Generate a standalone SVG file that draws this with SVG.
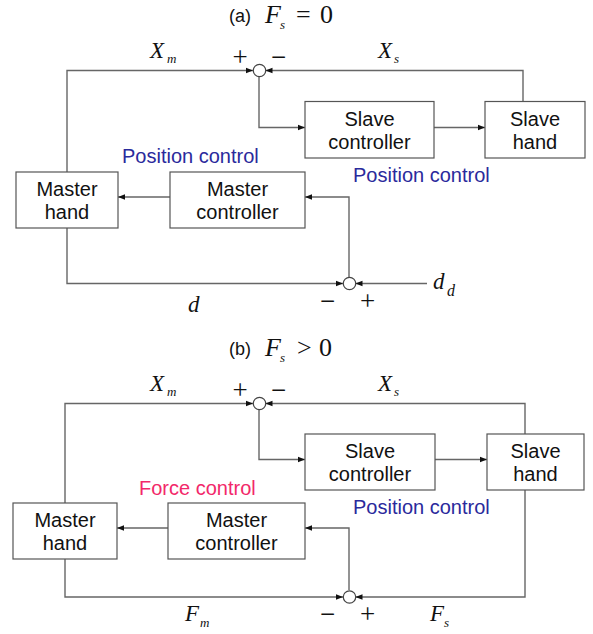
<svg xmlns="http://www.w3.org/2000/svg" width="593" height="634" viewBox="0 0 593 634">
<defs>
<marker id="ah" viewBox="0 0 8 8" refX="8" refY="4" markerWidth="7" markerHeight="7" markerUnits="userSpaceOnUse" orient="auto"><path d="M0,0.8 L8,4 L0,7.2 z" fill="#111"/></marker>
<style>
.box{fill:#fff;stroke:#555;stroke-width:1.2}
.ar{fill:none;stroke:#666;stroke-width:1.4;marker-end:url(#ah)}
.sum{fill:#fff;stroke:#444;stroke-width:1.2}
.t{font-family:"Liberation Sans",Arial,sans-serif;font-size:20px;fill:#111;text-anchor:middle}
.ti{font-family:"Liberation Sans",Arial,sans-serif;font-size:18px;fill:#111}
.m{font-family:"Liberation Serif","Times New Roman",serif;font-style:italic;font-size:23px;fill:#111}
.big{font-size:26px}
.sub{font-family:"Liberation Serif","Times New Roman",serif;font-style:italic;font-size:13px;fill:#111}
.subd{font-size:16px}
.op{font-family:"Liberation Serif","Times New Roman",serif;font-size:27px;fill:#111;text-anchor:middle}
.opb{font-family:"Liberation Serif","Times New Roman",serif;font-size:26px;fill:#111}
.blue{font-family:"Liberation Sans",Arial,sans-serif;font-size:20px;fill:#2a2a9c}
.pink{font-family:"Liberation Sans",Arial,sans-serif;font-size:20px;fill:#f2286a}
</style>
</defs>

<!-- (a) -->
<g id="title-a">
<text class="ti" x="229" y="22">(a)</text>
<text class="m big" x="265" y="23">F</text><text class="sub" x="280" y="29">s</text>
<text class="opb" x="296" y="23">=</text><text class="opb" x="320" y="23">0</text>
</g>

<g id="connectors-a">
<path class="ar" d="M67,172 L67,70.5 L253,70.5"/>
<path class="ar" d="M523,101 L523,70.5 L265.5,70.5"/>
<path class="ar" d="M259,77 L259,127.5 L305,127.5"/>
<path class="ar" d="M434,127.5 L485,127.5"/>
<path class="ar" d="M170,197 L118,197"/>
<path class="ar" d="M349,277 L349,197 L305,197"/>
<path class="ar" d="M67,228 L67,283.5 L343,283.5"/>
<path class="ar" d="M427,283.5 L355.5,283.5"/>
</g>
<g id="sum-a1"><circle class="sum" cx="259.5" cy="70.5" r="6.2"/></g>
<g id="sum-a2"><circle class="sum" cx="349.5" cy="283.5" r="6.2"/></g>

<g id="slave-controller-a"><rect class="box" x="305" y="101.5" width="129" height="56.5"/><text class="t" x="369.5" y="126">Slave</text><text class="t" x="369.5" y="149">controller</text></g>
<g id="slave-hand-a"><rect class="box" x="485" y="101.5" width="100" height="56.5"/><text class="t" x="535" y="126">Slave</text><text class="t" x="535" y="149">hand</text></g>
<g id="master-hand-a"><rect class="box" x="16" y="172" width="102" height="56"/><text class="t" x="67" y="196">Master</text><text class="t" x="67" y="219">hand</text></g>
<g id="master-controller-a"><rect class="box" x="170" y="172" width="135" height="56"/><text class="t" x="237.5" y="196">Master</text><text class="t" x="237.5" y="219">controller</text></g>

<text class="m" x="150" y="58">X</text><text class="sub" x="167" y="63">m</text>
<text class="m" x="378" y="58">X</text><text class="sub" x="394" y="63">s</text>
<text class="op" x="240" y="66">+</text>
<text class="op" x="278.5" y="66">−</text>
<text class="blue" x="122" y="163">Position control</text>
<text class="blue" x="353" y="182">Position control</text>
<text class="m" x="433" y="289">d</text><text class="sub subd" x="447" y="296">d</text>
<text class="op" x="327.5" y="310">−</text>
<text class="op" x="367.5" y="310">+</text>
<text class="m" x="188" y="312">d</text>

<!-- (b) -->
<g id="title-b">
<text class="ti" x="229" y="355">(b)</text>
<text class="m big" x="265" y="356">F</text><text class="sub" x="280" y="362">s</text>
<text class="opb" x="297" y="356">&gt;</text><text class="opb" x="319" y="356">0</text>
</g>

<g id="connectors-b">
<path class="ar" d="M65,503 L65,403.5 L253,403.5"/>
<path class="ar" d="M525,434 L525,403.5 L265.5,403.5"/>
<path class="ar" d="M259,410 L259,459.5 L305,459.5"/>
<path class="ar" d="M435,459.5 L487,459.5"/>
<path class="ar" d="M168,528 L117,528"/>
<path class="ar" d="M349,590 L349,528 L305,528"/>
<path class="ar" d="M65,559 L65,597 L343,597"/>
<path class="ar" d="M525,490 L525,597 L355.5,597"/>
</g>
<g id="sum-b1"><circle class="sum" cx="259.5" cy="403.5" r="6.2"/></g>
<g id="sum-b2"><circle class="sum" cx="349.5" cy="597" r="6.2"/></g>

<g id="slave-controller-b"><rect class="box" x="305" y="434" width="130" height="56"/><text class="t" x="370" y="458">Slave</text><text class="t" x="370" y="481">controller</text></g>
<g id="slave-hand-b"><rect class="box" x="487" y="434" width="97" height="56"/><text class="t" x="535.5" y="458">Slave</text><text class="t" x="535.5" y="481">hand</text></g>
<g id="master-hand-b"><rect class="box" x="13" y="503" width="104" height="56"/><text class="t" x="65" y="527">Master</text><text class="t" x="65" y="550">hand</text></g>
<g id="master-controller-b"><rect class="box" x="168" y="503" width="137" height="56"/><text class="t" x="236.5" y="527">Master</text><text class="t" x="236.5" y="550">controller</text></g>

<text class="m" x="150" y="391">X</text><text class="sub" x="167" y="396">m</text>
<text class="m" x="378" y="391">X</text><text class="sub" x="394" y="396">s</text>
<text class="op" x="240" y="399">+</text>
<text class="op" x="278.5" y="399">−</text>
<text class="pink" x="139" y="495">Force control</text>
<text class="blue" x="353" y="514">Position control</text>
<text class="m" x="185" y="621">F</text><text class="sub" x="200" y="627">m</text>
<text class="op" x="327.5" y="623">−</text>
<text class="op" x="367.5" y="623">+</text>
<text class="m" x="430" y="621">F</text><text class="sub" x="444" y="627">s</text>
</svg>
